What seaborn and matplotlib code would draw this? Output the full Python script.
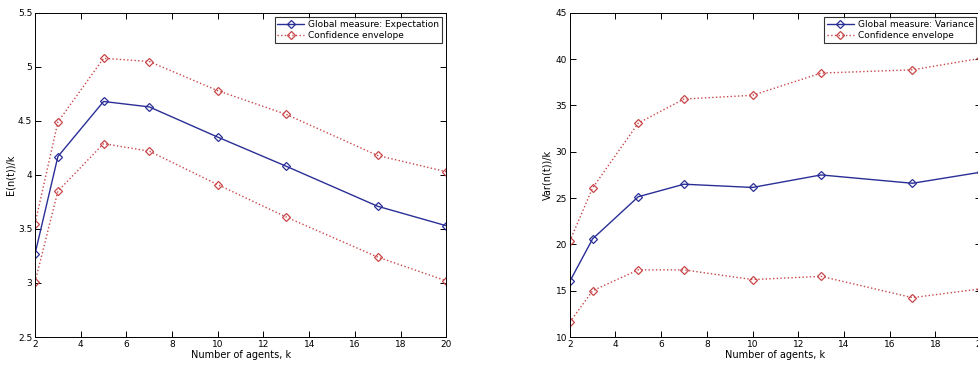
import matplotlib
matplotlib.use("Agg")
import matplotlib.pyplot as plt
import seaborn as sns
import pandas as pd

k = [2, 3, 5, 7, 10, 13, 17, 20]

exp_mean = [3.27, 4.17, 4.68, 4.63, 4.35, 4.08, 3.71, 3.53]
exp_upper = [3.55, 4.49, 5.08, 5.05, 4.78, 4.56, 4.18, 4.03]
exp_lower = [3.01, 3.85, 4.29, 4.22, 3.91, 3.61, 3.24, 3.02]

var_mean = [16.0, 20.6, 25.15, 26.5, 26.15, 27.5, 26.6, 27.8]
var_upper = [20.35, 26.1, 33.1, 35.7, 36.1, 38.5, 38.85, 40.1]
var_lower = [11.6, 15.0, 17.25, 17.25, 16.2, 16.55, 14.25, 15.2]

xticks = [2, 4, 6, 8, 10, 12, 14, 16, 18, 20]
exp_yticks = [2.5, 3, 3.5, 4, 4.5, 5, 5.5]
var_yticks = [10, 15, 20, 25, 30, 35, 40, 45]

sns.set_style("ticks")
plt.rcParams['font.family'] = ['DejaVu Sans']
plt.rcParams['text.color'] = 'black'
plt.rcParams['axes.labelcolor'] = 'black'
plt.rcParams['xtick.color'] = 'black'
plt.rcParams['ytick.color'] = 'black'
plt.rcParams['axes.edgecolor'] = 'black'

fig = plt.figure(figsize=(9.79, 3.65), dpi=100)
ax1 = fig.add_axes([0.0358, 0.0767, 0.42, 0.888])
ax2 = fig.add_axes([0.582, 0.0767, 0.42, 0.888])

blue = '#2a2f96'
red = '#c8474a'

def draw(ax, mean, upper, lower, label, ylabel, yticks):
    df = pd.DataFrame({'k': k, 'mean': mean, 'upper': upper, 'lower': lower})
    sns.lineplot(data=df, x='k', y='mean', ax=ax, color=blue, lw=1.0,
                 marker='D', markersize=4.5, markerfacecolor='none',
                 markeredgecolor=blue, markeredgewidth=0.9, label=label)
    sns.lineplot(data=df, x='k', y='upper', ax=ax, color=red, lw=1.0, ls=':',
                 marker='D', markersize=4.5, markerfacecolor='none',
                 markeredgecolor=red, markeredgewidth=0.9, label='Confidence envelope')
    sns.lineplot(data=df, x='k', y='lower', ax=ax, color=red, lw=1.0, ls=':',
                 marker='D', markersize=4.5, markerfacecolor='none',
                 markeredgecolor=red, markeredgewidth=0.9, label='_nolegend_')
    ax.set_xlim(2, 20)
    ax.set_ylim(yticks[0], yticks[-1])
    ax.set_xticks(xticks)
    ax.set_yticks(yticks)
    ax.set_yticklabels([('%g' % v) for v in yticks])
    ax.tick_params(direction='in', top=True, right=True, labelsize=6.5,
                   length=4, width=0.7, pad=2)
    for s in ax.spines.values():
        s.set_linewidth(0.7)
        s.set_visible(True)
    ax.set_xlabel('Number of agents, k', fontsize=7, labelpad=1)
    ax.set_ylabel(ylabel, fontsize=7, labelpad=2)
    leg = ax.legend(loc='upper right', fontsize=6.5, frameon=True, fancybox=False,
                    edgecolor='black', borderaxespad=0.5, handlelength=3,
                    borderpad=0.3, labelspacing=0.2, handletextpad=0.4)
    leg.get_frame().set_linewidth(0.8)

draw(ax1, exp_mean, exp_upper, exp_lower, 'Global measure: Expectation', 'E(n(t))/k', exp_yticks)
draw(ax2, var_mean, var_upper, var_lower, 'Global measure: Variance', 'Var(n(t))/k', var_yticks)

fig.savefig('out.png', dpi=100)
